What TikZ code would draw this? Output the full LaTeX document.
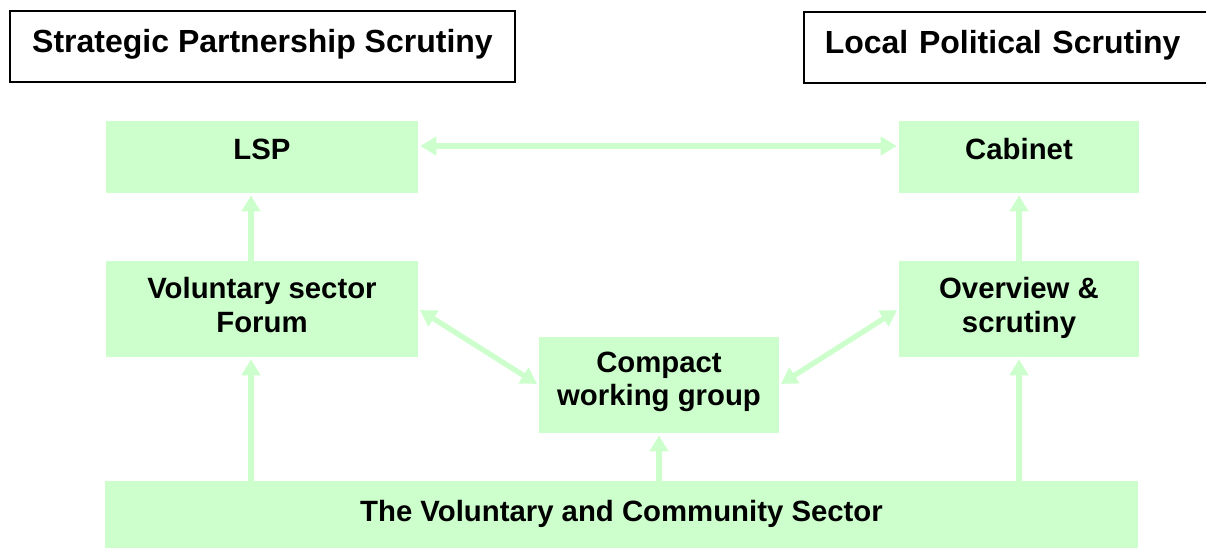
\documentclass[tikz,border=0pt]{standalone}
\usepackage{fontspec}
\setmainfont{Liberation Sans}
\usetikzlibrary{calc,arrows.meta}

\definecolor{palegreen}{HTML}{CCFFCC}

\begin{document}
\begin{tikzpicture}[
        %We set the scale (one unit is one pixel) and define some styles
        x=0.75pt, y=-0.75pt,
        every node/.style={color=black},
        heading/.style={draw=black, line width=1.2pt, inner sep=0pt, text depth=8pt,
            font=\bfseries\fontsize{24}{29}\selectfont},
        body/.style={fill=palegreen, inner sep=0pt, align=center, text depth=6pt,
            font=\bfseries\fontsize{22}{25}\selectfont},
        link/.style={draw=palegreen, line width=4pt,
            -{Triangle[width=13.5pt,length=12pt]}, shorten >=1.5pt},
        both link/.style={link, {Triangle[width=13.5pt,length=12pt]}-{Triangle[width=13.5pt,length=12pt]},
            shorten <=1.5pt}
]
\useasboundingbox (0,0) rectangle (1206,549);
% the two headings
\node[heading, minimum width=505*0.75pt, minimum height=71*0.75pt]
    (strategic) at (262.5,46.5) {Strategic Partnership Scrutiny};
\node[heading, anchor=north west, text width=376*0.75pt, align=left,
      inner xsep=21*0.75pt, minimum height=71*0.75pt]
    (political) at (803,11) {Local Political Scrutiny};

% the boxes
\node[body, minimum width=312*0.75pt, minimum height=72*0.75pt, text depth=12pt] (lsp) at (262,157) {LSP};
\node[body, minimum width=240*0.75pt, minimum height=72*0.75pt, text depth=12pt] (cabinet) at (1019,157) {Cabinet};
\node[body, minimum width=312*0.75pt, minimum height=96*0.75pt] (forum) at (262,309) {Voluntary sector\\Forum};
\node[body, minimum width=240*0.75pt, minimum height=96*0.75pt] (overview) at (1019,309) {Overview \&\\scrutiny};
\node[body, minimum width=240*0.75pt, minimum height=96*0.75pt, text depth=9pt] (compact) at (659,385) {Compact\\working group};
\node[body, minimum width=1033*0.75pt, minimum height=67*0.75pt] (sector) at (621.5,514.5) {The Voluntary and Community Sector};

% upward links
\draw[link] ([xshift=-8.25pt]forum.north) -- ([xshift=-8.25pt]lsp.south);
\draw[link] (overview.north) -- (cabinet.south);
\draw[link] ([xshift=-8.25pt]forum.south |- sector.north) -- ([xshift=-8.25pt]forum.south);
\draw[link] (sector.north -| compact.south) -- (compact.south);
\draw[link] (sector.north -| overview.south) -- (overview.south);

% two-way links
\draw[both link] ([yshift=8.25pt]lsp.east) -- ([yshift=8.25pt]cabinet.west);
\draw[both link] (forum.east) -- (compact.west);
\draw[both link] (compact.east) -- (overview.west);
\end{tikzpicture}
\end{document}
